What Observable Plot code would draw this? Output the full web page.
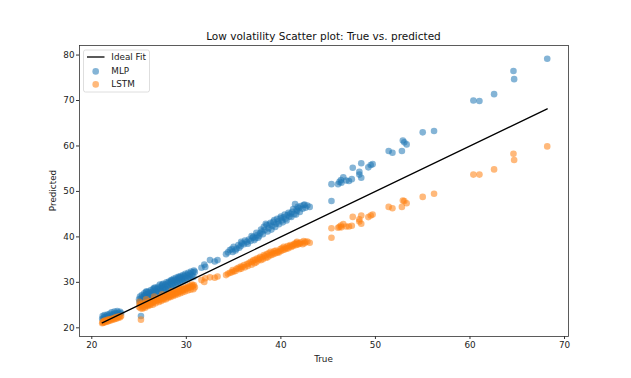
<!DOCTYPE html>
<html><head><meta charset="utf-8">
<script src="https://cdn.jsdelivr.net/npm/d3@7"></script>
<script src="https://cdn.jsdelivr.net/npm/@observablehq/plot@0.6"></script>
<style>html,body{margin:0;padding:0;background:#fff}svg{display:block}</style>
</head><body><div id="chart"></div>
<script>
const chartTitle = "Low volatility Scatter plot: True vs. predicted";
const xLabel = "True";
const yLabel = "Predicted";
const legendLabels = ["Ideal Fit", "MLP", "LSTM"];
const xTicks = [20, 30, 40, 50, 60, 70];
const yTicks = [20, 30, 40, 50, 60, 70, 80];

const trueVals = [
  21.1,21.15,21.2,21.3,21.35,21.4,21.5,21.6,21.65,21.75,21.8,21.9,22.0,22.1,22.2,22.3,22.4,22.5,22.6,22.7,22.8,22.9,23.0,23.1,
  25.2,
  25.0,25.1,25.15,25.25,25.3,25.4,25.5,25.55,25.6,25.7,25.8,25.85,25.9,26.0,26.1,26.15,26.25,26.3,26.4,26.5,26.55,26.65,26.7,26.8,26.9,
  27.0,27.05,27.15,27.2,27.3,27.4,27.5,27.55,27.65,27.7,27.8,27.9,28.0,28.05,28.15,28.2,28.3,28.4,28.5,28.55,28.65,28.7,28.8,28.9,
  29.0,29.05,29.15,29.2,29.3,29.4,29.5,29.55,29.65,29.7,29.8,29.9,30.0,30.1,30.2,30.3,30.4,30.5,30.6,30.7,30.8,30.9,
  25.05,25.35,25.65,25.95,26.2,26.45,26.75,27.1,27.35,27.6,27.85,28.1,28.35,28.6,28.85,29.1,29.35,29.6,29.85,30.15,30.45,30.75,
  29.25,28.45,27.45,26.6,25.75,
  31.6,31.9,32.0,32.5,33.0,33.3,34.2,34.6,34.9,35.0,35.3,35.5,35.75,35.9,36.1,36.4,36.6,36.8,37.0,37.1,37.3,37.5,37.7,37.8,
  38.0,38.2,38.3,38.5,38.7,38.9,39.1,39.3,39.5,39.7,39.95,40.1,40.3,40.5,40.7,40.9,41.0,41.2,41.4,41.5,41.65,41.7,41.9,42.1,42.4,42.6,43.05,
  34.4,34.8,35.2,35.6,35.8,36.2,36.5,36.9,37.2,37.4,37.6,37.9,38.1,38.4,38.6,38.8,39.0,39.2,39.4,39.6,39.8,40.0,40.2,40.4,
  40.6,40.8,41.1,41.3,41.6,41.8,42.0,42.3,42.5,42.8,
  45.35,45.35,46.05,46.2,46.35,46.4,46.6,46.9,47.2,47.5,47.6,48.3,48.3,48.5,48.5,49.25,49.5,49.7,
  51.4,51.8,52.8,52.9,53.05,53.3,55.0,56.2,60.36,61.0,62.55,64.6,64.67,68.17
];
const mlpPred = [
  22.0,22.6,21.8,22.3,22.8,22.0,22.5,22.1,22.9,22.4,22.7,23.1,22.5,23.4,22.8,23.0,23.6,23.2,22.9,23.7,23.3,23.0,23.5,23.2,
  22.6,
  26.3,26.9,25.9,26.6,27.2,26.4,27.0,27.6,26.8,27.3,27.9,26.9,27.5,28.0,27.2,27.7,28.3,27.4,27.9,28.5,27.6,28.2,28.8,27.9,28.5,
  29.0,28.1,28.7,29.5,28.4,29.2,28.8,29.7,29.0,28.6,29.5,30.0,29.1,29.8,30.2,29.4,30.0,30.5,29.6,30.3,30.8,29.9,30.5,31.0,
  30.1,30.7,31.2,30.4,30.9,31.4,30.6,31.1,31.6,30.8,31.4,31.9,31.0,31.6,32.1,31.3,31.9,32.4,31.5,32.2,32.6,32.3,
  25.6,26.1,26.3,26.6,26.9,27.1,27.3,27.6,27.9,28.1,28.4,28.6,28.9,29.1,29.4,29.7,29.9,30.2,30.4,30.7,31.0,31.2,
  31.1,30.4,29.5,28.8,28.0,
  33.2,33.9,33.4,34.9,34.6,34.9,36.2,37.1,36.7,37.8,37.4,38.2,38.0,38.6,38.4,38.9,39.4,39.1,39.8,40.0,39.7,40.4,40.2,40.8,
  41.2,42.2,41.5,42.6,41.9,43.1,42.4,43.7,42.9,43.4,44.1,43.6,44.3,44.0,44.8,44.5,45.1,45.5,45.0,47.2,46.0,45.7,46.3,46.8,47.0,46.4,46.6,
  36.6,37.3,37.0,37.6,38.9,39.2,38.5,40.2,39.3,40.9,39.8,41.6,40.6,42.9,41.2,42.7,41.6,43.3,42.2,44.0,42.8,44.5,43.2,44.9,
  43.6,45.3,44.4,46.1,44.9,46.6,45.5,46.2,47.1,46.9,
  51.6,47.9,51.6,52.1,52.5,51.9,53.1,52.4,52.3,52.7,55.2,54.3,53.7,56.2,53.0,55.3,55.8,56.0,
  58.9,58.5,58.9,61.2,60.8,60.35,63.0,63.3,70.0,69.9,71.4,76.5,74.7,79.2
];
const lstmPred = [
  21.0,21.3,21.1,21.5,21.2,21.6,21.3,21.7,21.4,21.8,21.5,21.9,21.6,22.0,21.8,22.1,21.9,22.3,22.0,22.4,22.2,22.5,22.3,22.6,
  21.8,
  24.6,25.2,24.3,24.9,25.4,24.5,25.0,25.3,24.7,25.5,25.1,24.9,25.6,25.3,25.8,25.2,25.7,25.9,25.5,26.0,25.7,26.2,25.9,26.3,26.0,
  26.4,26.1,26.6,26.2,26.7,26.5,26.9,26.4,27.0,26.7,27.1,26.8,27.2,27.0,27.4,26.9,27.5,27.2,27.6,27.3,27.8,27.5,27.9,27.6,
  28.0,27.8,28.2,27.9,28.3,28.1,28.5,28.2,28.6,28.4,28.8,28.5,28.9,28.7,29.1,28.8,29.3,29.0,29.5,29.2,29.4,28.9,
  25.7,24.2,24.4,24.8,25.0,25.1,25.4,25.7,25.9,26.2,26.3,26.6,26.8,27.0,27.2,27.4,27.6,27.8,28.0,28.2,28.4,28.5,
  28.6,28.1,27.4,26.9,26.3,
  30.5,30.1,30.9,31.1,31.0,31.3,31.6,32.1,32.7,32.4,33.0,33.2,33.5,33.4,33.8,34.0,34.2,34.5,34.6,34.9,35.0,35.3,35.2,35.6,
  35.5,36.0,35.8,36.2,36.4,36.7,36.5,36.9,37.0,36.8,37.3,37.5,37.8,37.6,38.0,37.9,38.2,38.1,38.5,38.4,38.7,38.9,38.6,38.8,39.1,38.9,38.7,
  31.9,32.2,32.5,32.9,33.0,33.3,33.6,33.9,34.2,34.4,34.8,34.9,35.1,35.4,35.5,35.9,36.0,36.2,36.4,36.5,36.6,36.9,37.1,37.2,
  37.4,37.5,37.8,38.0,38.2,38.3,38.5,38.4,38.6,39.0,
  41.9,39.8,42.0,42.2,42.5,42.1,42.8,42.3,42.3,42.45,44.4,43.85,43.4,44.7,42.9,44.35,44.7,44.9,
  46.6,46.3,46.6,48.0,47.9,47.4,48.8,49.5,53.7,53.7,54.85,58.3,56.9,59.9
];
const colors = ["#000000", "#1f77b4", "#ff7f0e"];

const rows = trueVals.map((t, i) => ({t, mlp: mlpPred[i], lstm: lstmPred[i]}));
const [lo, hi] = d3.extent(trueVals);
const ideal = [{x: lo, y: lo}, {x: hi, y: hi}];

const W = 631, H = 378, mL = 79, mR = 63, mT = 45, mB = 42;
const font = "DejaVu Sans, sans-serif";
const R = 3.3;

const plot = Plot.plot({
  width: W, height: H,
  marginLeft: mL, marginRight: mR, marginTop: mT, marginBottom: mB,
  style: {fontFamily: font, fontSize: "8.8px", color: "#222", background: "#fff", overflow: "visible"},
  x: {domain: [18.70, 70.42]},
  y: {domain: [18.09, 82.1]},
  marks: [
    Plot.dot(rows, {x: "t", y: "mlp", r: R, fill: colors[1], fillOpacity: 0.55, stroke: "none"}),
    Plot.dot(rows, {x: "t", y: "lstm", r: R, fill: colors[2], fillOpacity: 0.55, stroke: "none"}),
    Plot.line(ideal, {x: "x", y: "y", stroke: colors[0], strokeWidth: 1.3}),
    Plot.frame({stroke: "#333", strokeWidth: 0.8}),
    Plot.axisX({ticks: xTicks, tickSize: 3, tickPadding: 2, label: null, stroke: "#333"}),
    Plot.axisY({ticks: yTicks, tickSize: 3, tickPadding: 2, label: null, stroke: "#333"})
  ]
});
document.getElementById("chart").appendChild(plot);

const svg = d3.select(plot);
const cx = mL + (W - mL - mR) / 2;
svg.append("text").attr("x", cx).attr("y", 39.5).attr("text-anchor", "middle")
  .attr("font-family", font).attr("font-size", "10.5px").attr("fill", "#111").text(chartTitle);
svg.append("text").attr("x", cx).attr("y", 362).attr("text-anchor", "middle")
  .attr("font-family", font).attr("font-size", "8.8px").attr("fill", "#222").text(xLabel);
svg.append("text").attr("transform", `translate(56,${mT + (H - mT - mB) / 2}) rotate(-90)`)
  .attr("text-anchor", "middle").attr("font-family", font).attr("font-size", "8.8px").attr("fill", "#222").text(yLabel);

const lg = svg.append("g");
lg.append("rect").attr("x", 83.5).attr("y", 50).attr("width", 66).attr("height", 42).attr("rx", 2)
  .attr("fill", "#fff").attr("fill-opacity", 0.8).attr("stroke", "#d5d5d5").attr("stroke-width", 0.8);
lg.append("line").attr("x1", 87).attr("x2", 104.5).attr("y1", 57).attr("y2", 57)
  .attr("stroke", colors[0]).attr("stroke-width", 1.3);
lg.append("circle").attr("cx", 95.7).attr("cy", 71.4).attr("r", R).attr("fill", colors[1]).attr("fill-opacity", 0.55);
lg.append("circle").attr("cx", 95.7).attr("cy", 84.4).attr("r", R).attr("fill", colors[2]).attr("fill-opacity", 0.55);
[57, 71, 84].forEach((y, i) => {
  lg.append("text").attr("x", 111.3).attr("y", y).attr("dy", "0.35em").attr("text-anchor", "start")
    .attr("font-family", font).attr("font-size", "8.8px").attr("fill", "#222").text(legendLabels[i]);
});
</script></body></html>
